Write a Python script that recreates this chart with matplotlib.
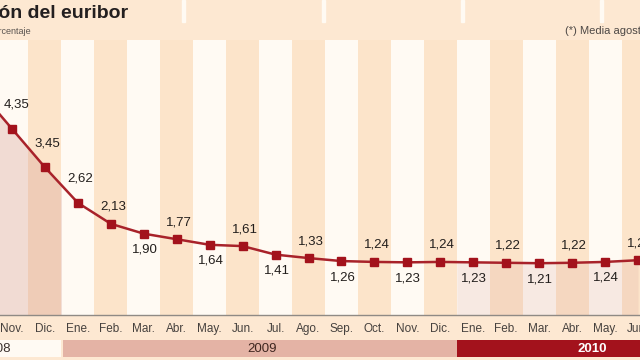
import numpy as np
import matplotlib
matplotlib.use('Agg')
import matplotlib.pyplot as plt
from matplotlib.patches import Rectangle

# Euribor monthly averages (%), Oct 2008 - Jun 2010
months = ['Oct.', 'Nov.', 'Dic.', 'Ene.', 'Feb.', 'Mar.', 'Abr.', 'May.', 'Jun.',
          'Jul.', 'Ago.', 'Sep.', 'Oct.', 'Nov.', 'Dic.', 'Ene.', 'Feb.', 'Mar.',
          'Abr.', 'May.', 'Jun.']
years = [2008] * 3 + [2009] * 12 + [2010] * 6
values = [5.25, 4.35, 3.45, 2.62, 2.13, 1.90, 1.77, 1.64, 1.61, 1.41, 1.33,
          1.26, 1.24, 1.23, 1.24, 1.23, 1.22, 1.21, 1.22, 1.24, 1.28]
label_side = ['up', 'up', 'up', 'up', 'up', 'down', 'up', 'down', 'up', 'down',
              'up', 'down', 'up', 'down', 'up', 'down', 'up', 'down', 'up',
              'down', 'up']

FONT = ['Liberation Sans', 'DejaVu Sans']
BG = '#fde8d2'
PEACH = '#fce4ca'
WHITE = '#fffaf3'
RED = '#a3121c'

idx = np.arange(len(values))
vals = np.array(values)
XLIM = (0.636, 20.06)
YTOP = 6.425

fig = plt.figure(figsize=(6.4, 3.6), dpi=100)
fig.patch.set_facecolor(BG)

# main chart area
ax = fig.add_axes([0, 45 / 360, 1, 275 / 360])
ax.set_facecolor(BG)

# alternating month columns
col_colors = [WHITE if i % 2 == 1 else PEACH for i in idx]
ax.bar(idx, YTOP, width=1.0, bottom=0, color=col_colors, zorder=0)

# tint below the line for 2008 and 2010
def year_span(y):
    pos = [i for i, yy in enumerate(years) if yy == y]
    return pos[0] - 0.5, pos[-1] + 0.5

for y, alpha in [(2008, 0.30), (2010, 0.16)]:
    x0, x1 = year_span(y)
    xs = np.linspace(max(x0, idx[0]), min(x1, idx[-1]), 100)
    ax.fill_between(xs, 0, np.interp(xs, idx, vals), color='#d2968c',
                    alpha=alpha, lw=0, zorder=1)

ax.plot(idx, vals, color='#a8222a', lw=1.8, zorder=3)
ax.plot(idx, vals, ls='none', marker='s', ms=5.4, color=RED, zorder=4)

for i, v in enumerate(values):
    if label_side[i] == 'up':
        dy = 24 if i <= 3 and i > 0 and v > 2.5 else 17
        dx = 5 if i == 1 else 2
    else:
        dy = -16
        dx = 1
    ax.annotate(f'{v:.2f}'.replace('.', ','), (i, v), xytext=(dx, dy),
                textcoords='offset pixels', ha='center', va='center',
                fontsize=9.5, family=FONT, color='#221e1c', zorder=5)

for s in ['top', 'right', 'left']:
    ax.spines[s].set_visible(False)
ax.spines['bottom'].set_color('#8f8a85')
ax.spines['bottom'].set_linewidth(1.0)
ax.set_yticks([])
ax.set_xticks(idx)
ax.set_xticklabels(months, family=FONT, fontsize=8.5, color='#46413e')
ax.tick_params(axis='x', length=0, pad=6)
ax.set_xlim(*XLIM)
ax.set_ylim(0, YTOP)

# year strip
ay = fig.add_axes([0, 3 / 360, 1, 17 / 360])
ay.set_ylim(0, 1)
ay.axis('off')
year_style = {2008: ('#fffaf3', '#3a302c'), 2009: ('#e4b3a5', '#3f2620'),
              2010: (RED, 'white')}
year_text_x = {2008: 0.95, 2009: 8.6, 2010: 18.6}
for y in [2008, 2009, 2010]:
    x0, x1 = year_span(y)
    fc, tc = year_style[y]
    if y == 2009:
        x0 += 0.06
    ay.barh(0.5, x1 - x0, left=x0, height=1.0, color=fc, lw=0)
    ay.text(year_text_x[y], 0.45, str(y), ha='right' if y == 2008 else 'center',
            va='center', fontsize=9.5, family=FONT, color=tc,
            fontweight='bold' if y == 2010 else 'normal')
ay.set_xlim(*XLIM)

# header
for xp in [182, 322, 461, 600]:
    fig.patches.append(Rectangle((xp / 640, 1 - 22 / 360), 3 / 640, 22 / 360,
                                 transform=fig.transFigure, color='#fffaf3', zorder=0))
fig.text(128 / 640, 1 - 18 / 360, 'Evolución del euribor', ha='right', va='baseline',
         fontsize=14, fontweight='bold', family=FONT, color='#231f20')
fig.text(31 / 640, 1 - 31 / 360, 'En porcentaje', ha='right', va='center',
         fontsize=6.5, family=FONT, color='#5a5450')
fig.text(565 / 640, 1 - 31 / 360, '(*) Media agosto', ha='left', va='center',
         fontsize=8, family=FONT, color='#4d4845')

fig.savefig('out.png', dpi=100, facecolor=fig.get_facecolor())
